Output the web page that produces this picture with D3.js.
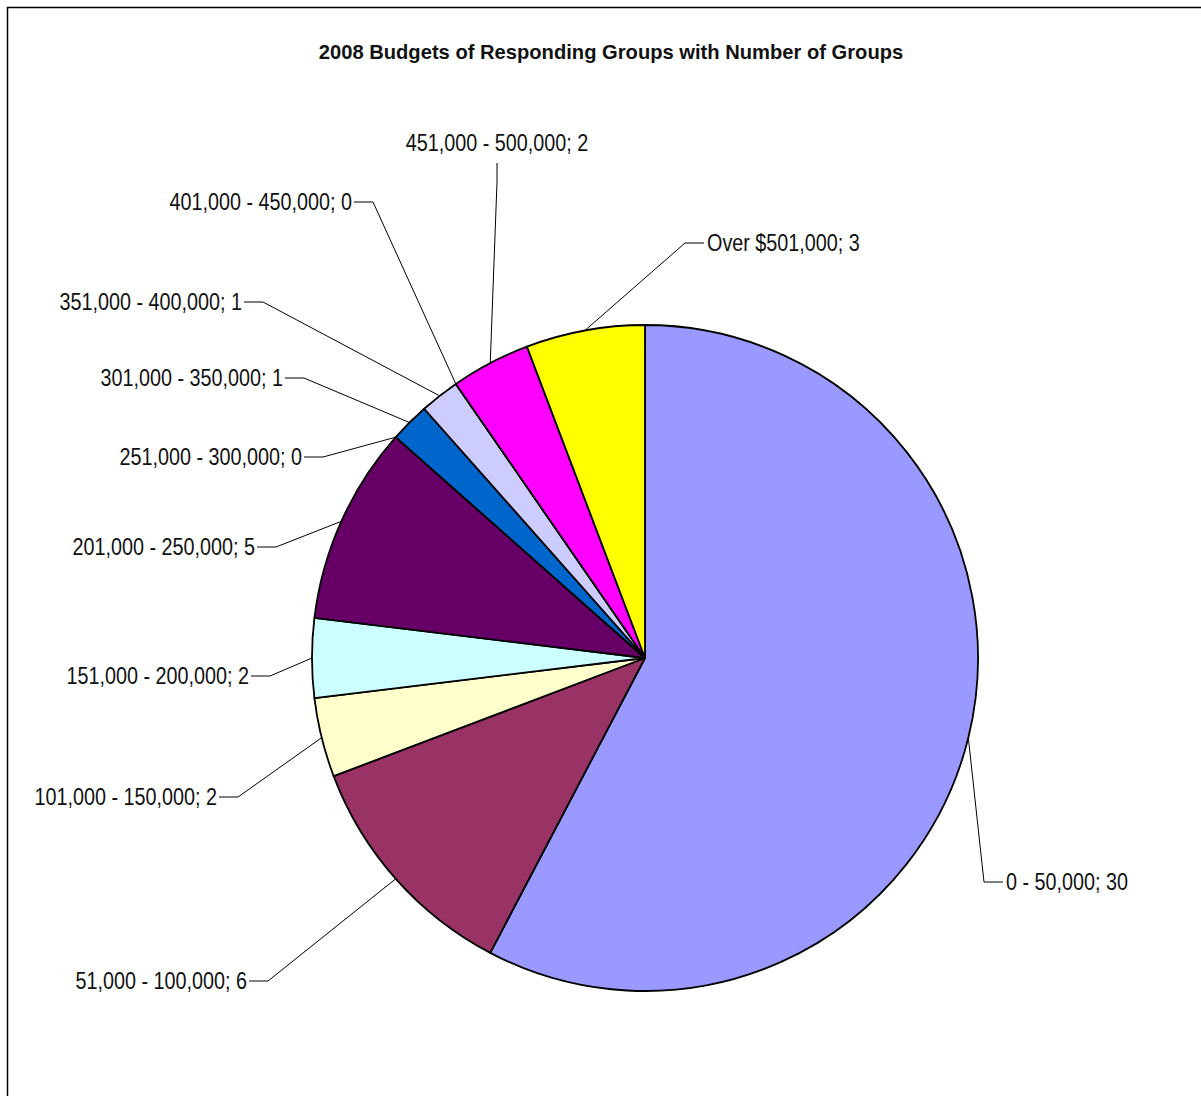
<!DOCTYPE html>
<html>
<head>
<meta charset="utf-8">
<script src="https://cdn.jsdelivr.net/npm/d3@7"></script>
<style>
  body { margin: 0; background: #fff; }
  text { font-family: "Liberation Sans Narrow", "Arial Narrow", "Liberation Sans", Arial, sans-serif; fill: #111; }
</style>
</head>
<body>
<script>
var w = 1201;
var h = 1096;

// data
var categories = ["0 - 50,000", "51,000 - 100,000", "101,000 - 150,000", "151,000 - 200,000",
  "201,000 - 250,000", "251,000 - 300,000", "301,000 - 350,000", "351,000 - 400,000",
  "401,000 - 450,000", "451,000 - 500,000", "Over $501,000"];
var counts = [30, 6, 2, 2, 5, 0, 1, 1, 0, 2, 3];
var colors = ["#9999FF", "#993366", "#FFFFCC", "#CCFFFF", "#660066", "#FF8080",
  "#0066CC", "#CCCCFF", "#000080", "#FF00FF", "#FFFF00"];

// where the label text sits (x, y, anchor side)
var labelPos = [
  [1006, 882, "start"], [247, 981, "end"], [217, 797, "end"], [249, 676, "end"],
  [255, 547, "end"], [302, 457, "end"], [283, 378, "end"], [242, 302, "end"],
  [352, 202, "end"], [497, 143, "middle"], [707, 243, "start"]
];

var cx = 645, cy = 658, r = 333;
var squeeze = 0.86; // no narrow font installed, so squeeze the glyphs

var svg = d3.select("body")
    .append("svg")
    .attr("width", w)
    .attr("height", h);

// chart frame
svg.append("rect")
    .attr("x", 7.5).attr("y", 7.5)
    .attr("width", 1200).attr("height", 1100)
    .attr("fill", "#fff")
    .attr("stroke", "#000")
    .attr("stroke-width", 1.5);

svg.append("text")
    .attr("transform", "translate(611,52) scale(0.96,1)")
    .attr("dy", "0.35em")
    .attr("text-anchor", "middle")
    .attr("font-weight", "bold")
    .attr("font-size", "21px")
    .text("2008 Budgets of Responding Groups with Number of Groups");

var pie = d3.pie().sort(null).value(function(d) { return d; });
var arcs = pie(counts);
var arc = d3.arc().innerRadius(0).outerRadius(r);

var g = svg.append("g").attr("transform", "translate(" + cx + "," + cy + ")");

g.selectAll("path")
    .data(arcs)
    .enter().append("path")
    .attr("d", arc)
    .attr("fill", function(d, i) { return colors[i]; })
    .attr("stroke", "#000")
    .attr("stroke-width", 1.8)
    .attr("stroke-linejoin", "round");

// leader lines + labels
arcs.forEach(function(d, i) {
  var a = (d.startAngle + d.endAngle) / 2;
  var px = cx + r * Math.sin(a);
  var py = cy - r * Math.cos(a);
  var lp = labelPos[i];
  var pts;
  if (lp[2] === "end") {
    pts = [[lp[0] + 2, lp[1]], [lp[0] + 21, lp[1]], [px, py]];
  } else if (lp[2] === "start") {
    pts = [[lp[0] - 3, lp[1]], [lp[0] - 22, lp[1]], [px, py]];
  } else {
    pts = [[lp[0], lp[1] + 20], [lp[0], lp[1] + 39], [px, py]];
  }
  svg.append("path")
      .attr("d", d3.line()(pts))
      .attr("fill", "none")
      .attr("stroke", "#000")
      .attr("stroke-width", 1);

  svg.append("text")
      .attr("transform", "translate(" + lp[0] + "," + lp[1] + ") scale(" + squeeze + ",1)")
      .attr("dy", "0.36em")
      .attr("text-anchor", lp[2])
      .attr("font-size", "23px")
      .text(categories[i] + "; " + counts[i]);
});
</script>
</body>
</html>
